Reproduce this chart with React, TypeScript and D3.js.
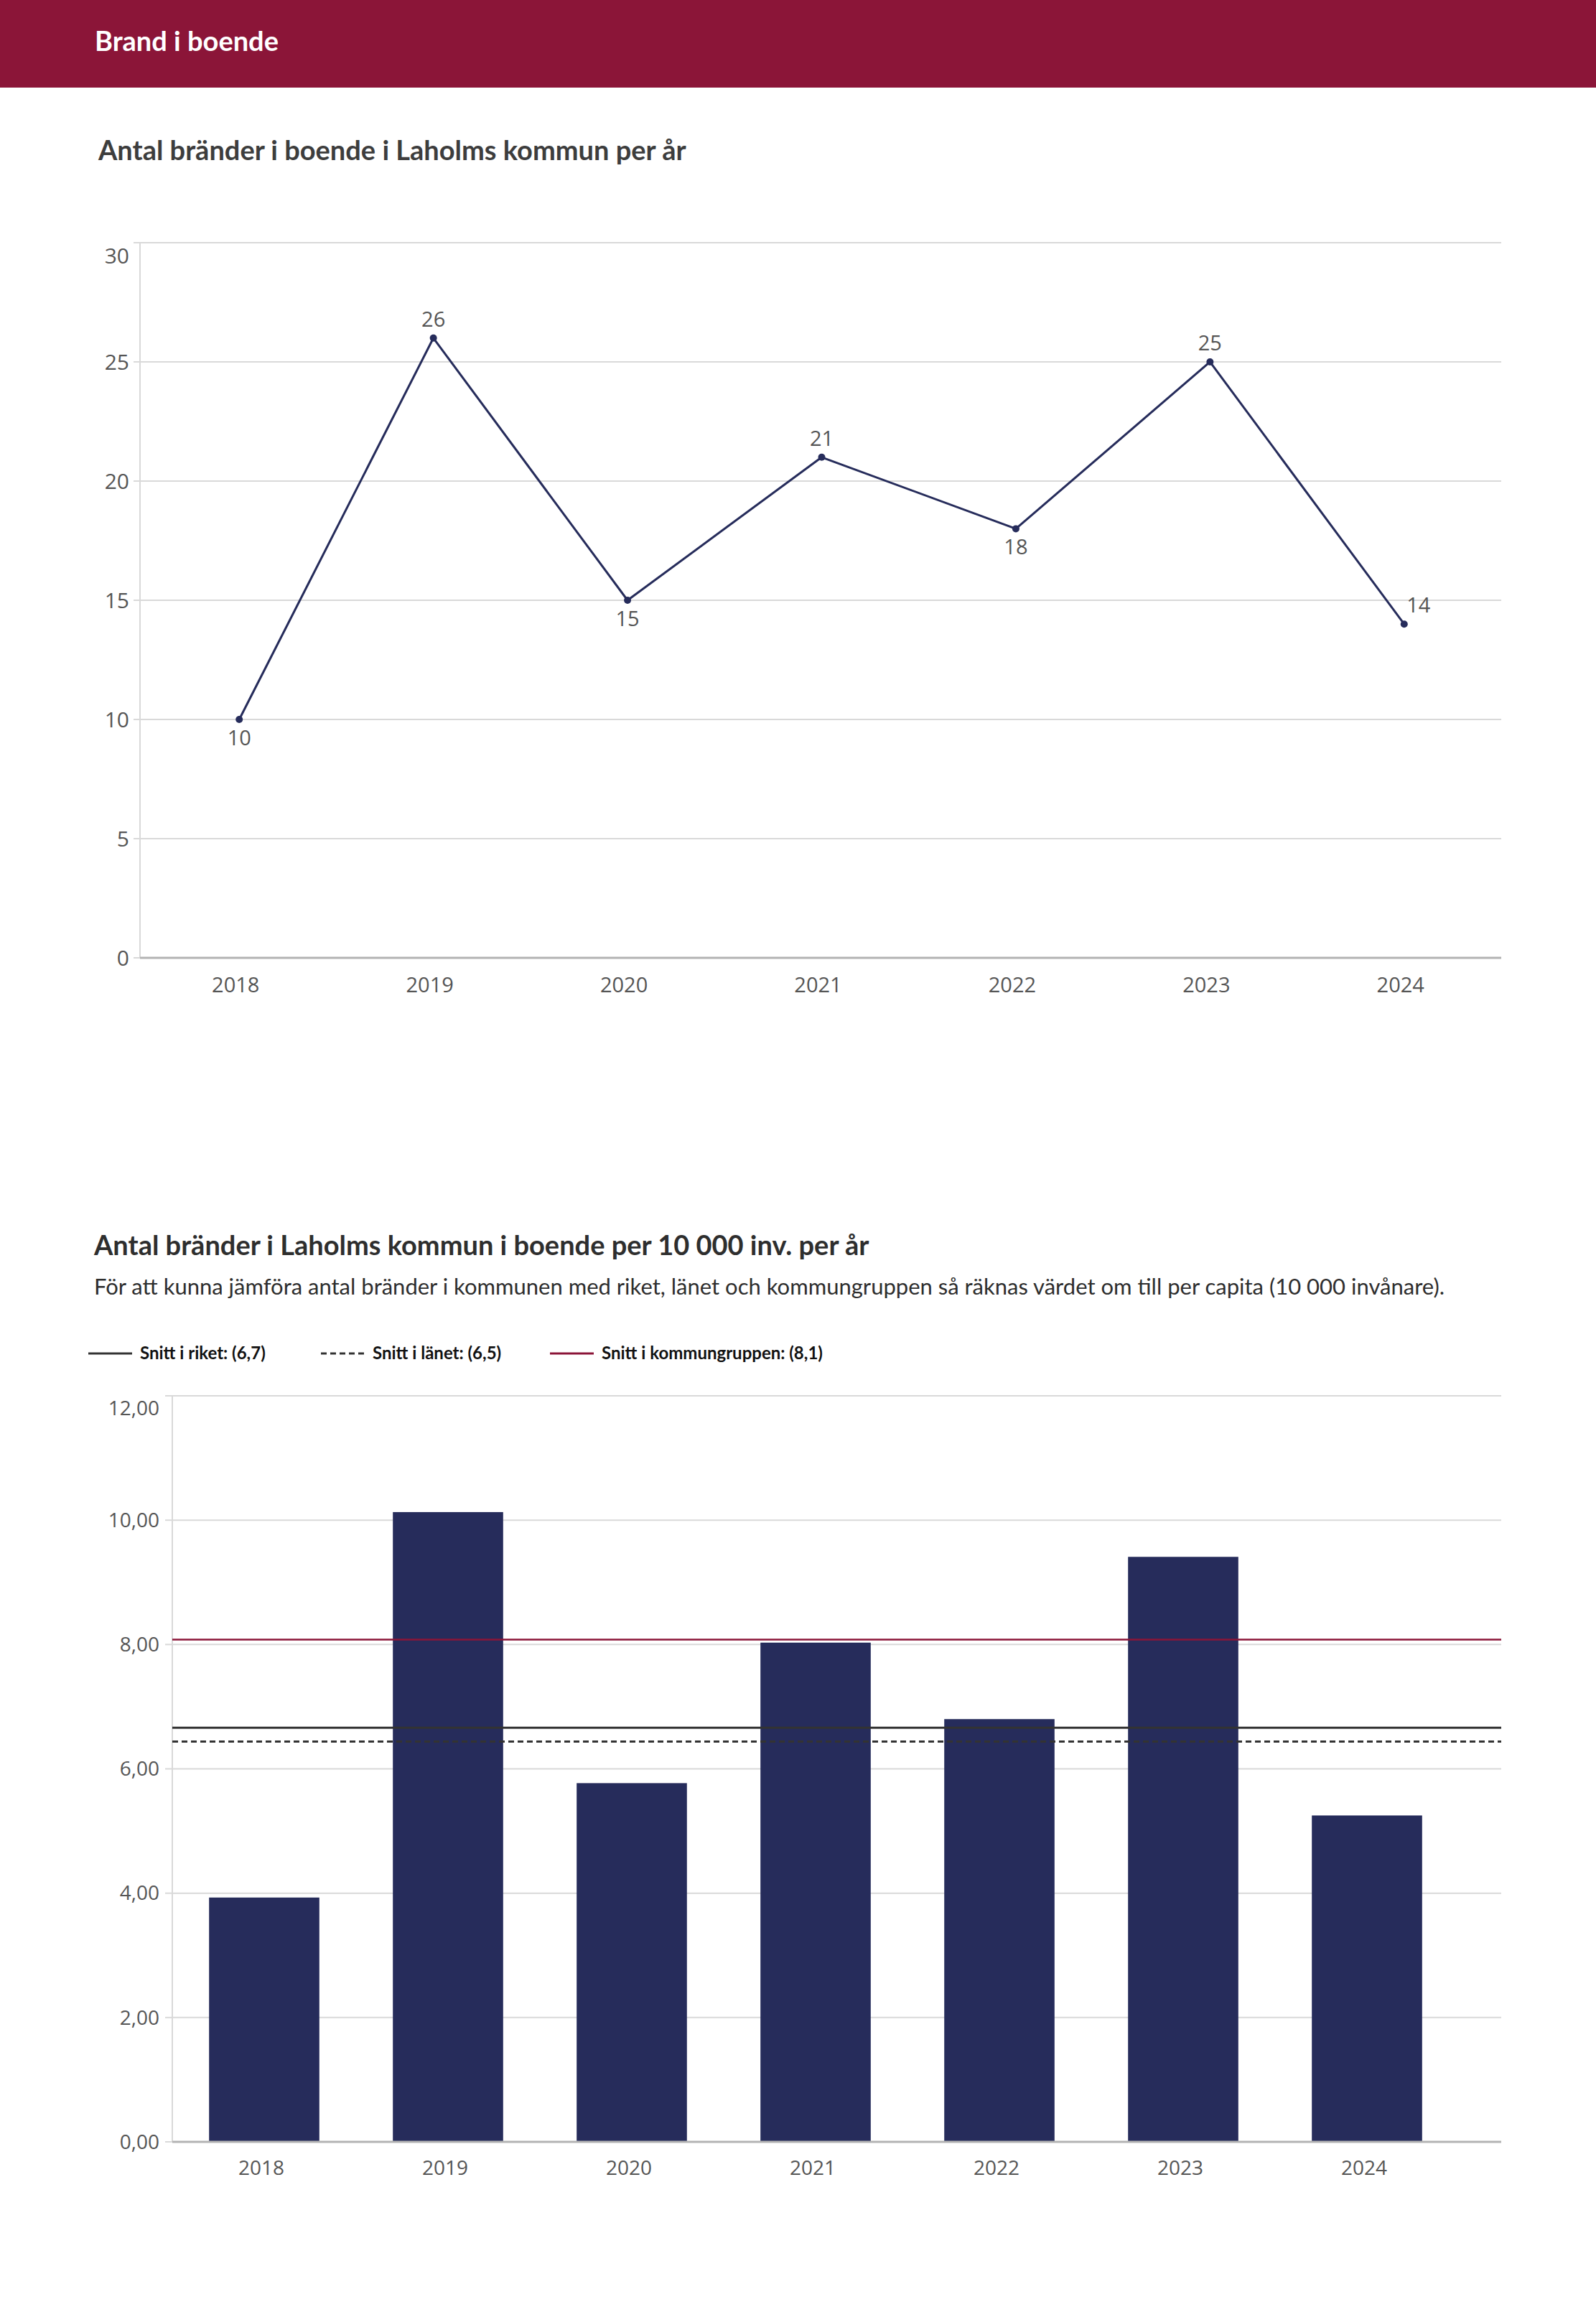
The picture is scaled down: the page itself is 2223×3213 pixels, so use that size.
import * as d3 from "d3";
import { useEffect } from "react";

const years = ["2018", "2019", "2020", "2021", "2022", "2023", "2024"];
const fires = [10, 26, 15, 21, 18, 25, 14];
// label placement for the line chart point labels
const labelPos = ["below", "above", "below", "above", "below", "above", "aboveRight"];
const yTicksTop = [0, 5, 10, 15, 20, 25, 30];

const perCapita = [3.93, 10.13, 5.77, 8.03, 6.8, 9.41, 5.25];
const yTicksBottom = [0, 2, 4, 6, 8, 10, 12];

const refNames = ["Snitt i riket: (6,7)", "Snitt i länet: (6,5)", "Snitt i kommungruppen: (8,1)"];
const refValues = [6.66, 6.44, 8.08];

const W = 2223;
const H = 3213;
const NAVY = "#262c5b";
const WINE = "#8b1538";
const GRID = "#d9d9d9";
const LABEL = "#555555";
const GILL = "Lato, 'Open Sans', sans-serif";
const SANS = "'Open Sans', 'Noto Sans', sans-serif";

const refStyles = [
  { color: "#333333", dash: "none" },
  { color: "#333333", dash: "8 5" },
  { color: WINE, dash: "none" },
];

export default function App() {
  useEffect(() => {
    document.body.style.margin = "0";
  }, []);

  // top line chart
  const t = { left: 195, right: 2091, top: 338, bottom: 1334 };
  const xTop = d3.scalePoint<string>().domain(years).range([198, t.right]).padding(0.5);
  const yTop = d3.scaleLinear().domain([0, 30]).range([t.bottom, t.top]);
  const line = d3
    .line<number>()
    .x((_, i) => xTop(years[i])!)
    .y((d) => yTop(d));

  // bottom bar chart
  const b = { left: 240, right: 2091, top: 1944, bottom: 2983 };
  const xBot = d3.scaleBand<string>().domain(years).range([b.left, 2032]).paddingInner(0.4).paddingOuter(0.2);
  const yBot = d3.scaleLinear().domain([0, 12]).range([b.bottom, b.top]);
  const fmt = (v: number) => d3.format(".2f")(v).replace(".", ",");

  const legendX = [123, 447, 766];

  return (
    <svg width={W} height={H} viewBox={`0 0 ${W} ${H}`} style={{ display: "block", background: "#fff" }}>
      {/* header band */}
      <rect x={0} y={0} width={W} height={122} fill={WINE} />
      <text x={132} y={71} fill="#fff" fontFamily={GILL} fontWeight={700} fontSize={38}>
        Brand i boende
      </text>

      <text x={137} y={223} fill="#3d3d3d" fontFamily={GILL} fontWeight={700} fontSize={38}>
        Antal bränder i boende i Laholms kommun per år
      </text>

      {/* top chart grid + axis */}
      <g>
        {yTicksTop.map((v) => (
          <g key={v}>
            {v > 0 && <line x1={t.left} x2={t.right} y1={yTop(v)} y2={yTop(v)} stroke={GRID} strokeWidth={2} />}
            <line x1={t.left - 9} x2={t.left} y1={yTop(v)} y2={yTop(v)} stroke={GRID} strokeWidth={2} />
            <text
              x={180}
              y={yTop(v)}
              dy={v === 30 ? "0.95em" : "0.35em"}
              textAnchor="end"
              fill={LABEL}
              fontFamily={SANS}
              fontSize={30}
            >
              {v}
            </text>
          </g>
        ))}
        <line x1={t.left} x2={t.left} y1={t.top} y2={t.bottom} stroke={GRID} strokeWidth={2} />
        <line x1={t.left} x2={t.right} y1={t.bottom} y2={t.bottom} stroke="#b3b3b3" strokeWidth={3} />
        {years.map((y) => (
          <text key={y} x={xTop(y)! - 5} y={1382} textAnchor="middle" fill={LABEL} fontFamily={SANS} fontSize={29}>
            {y}
          </text>
        ))}
      </g>

      <path d={line(fires) || ""} fill="none" stroke={NAVY} strokeWidth={3} strokeLinejoin="round" />
      {fires.map((v, i) => {
        const cx = xTop(years[i])!;
        const cy = yTop(v);
        const pos = labelPos[i];
        const lx = pos === "aboveRight" ? cx + 20 : cx;
        const ly = pos === "below" ? cy + 36 : cy - 16;
        return (
          <g key={years[i]}>
            <circle cx={cx} cy={cy} r={5} fill={NAVY} />
            <text x={lx} y={ly} textAnchor="middle" fill={LABEL} fontFamily={SANS} fontSize={29}>
              {v}
            </text>
          </g>
        );
      })}

      {/* bottom section */}
      <text x={131} y={1748} fill="#2e2e2e" fontFamily={GILL} fontWeight={700} fontSize={38}>
        Antal bränder i Laholms kommun i boende per 10 000 inv. per år
      </text>
      <text x={131} y={1803} fill="#2e2e2e" fontFamily={GILL} fontSize={31}>
        För att kunna jämföra antal bränder i kommunen med riket, länet och kommungruppen så räknas värdet om till per capita (10 000 invånare).
      </text>

      {refNames.map((n, i) => (
        <g key={n}>
          <line
            x1={legendX[i]}
            x2={legendX[i] + 61}
            y1={1885}
            y2={1885}
            stroke={refStyles[i].color}
            strokeWidth={3}
            strokeDasharray={refStyles[i].dash}
          />
          <text x={legendX[i] + 72} y={1893} fill="#111" fontFamily={GILL} fontWeight={700} fontSize={24}>
            {n}
          </text>
        </g>
      ))}

      <g>
        {yTicksBottom.map((v) => (
          <g key={v}>
            {v > 0 && <line x1={b.left} x2={b.right} y1={yBot(v)} y2={yBot(v)} stroke={GRID} strokeWidth={2} />}
            <line x1={b.left - 10} x2={b.left} y1={yBot(v)} y2={yBot(v)} stroke={GRID} strokeWidth={2} />
            <text
              x={222}
              y={yBot(v)}
              dy={v === 12 ? "0.95em" : "0.35em"}
              textAnchor="end"
              fill={LABEL}
              fontFamily={SANS}
              fontSize={28}
            >
              {fmt(v)}
            </text>
          </g>
        ))}
        <line x1={b.left} x2={b.left} y1={b.top} y2={b.bottom} stroke={GRID} strokeWidth={2} />
      </g>

      {perCapita.map((v, i) => (
        <rect
          key={years[i]}
          x={xBot(years[i])}
          y={yBot(v)}
          width={xBot.bandwidth()}
          height={yBot(0) - yBot(v)}
          fill={NAVY}
        />
      ))}
      <line x1={b.left} x2={b.right} y1={b.bottom} y2={b.bottom} stroke="#b3b3b3" strokeWidth={3} />
      {years.map((y) => (
        <text
          key={y}
          x={xBot(y)! + xBot.bandwidth() / 2 - 4}
          y={3029}
          textAnchor="middle"
          fill={LABEL}
          fontFamily={SANS}
          fontSize={28}
        >
          {y}
        </text>
      ))}

      {refValues.map((v, i) => (
        <line
          key={refNames[i]}
          x1={b.left}
          x2={b.right}
          y1={yBot(v)}
          y2={yBot(v)}
          stroke={refStyles[i].color}
          strokeWidth={i === 2 ? 2.5 : 3}
          strokeDasharray={refStyles[i].dash}
        />
      ))}
    </svg>
  );
}
